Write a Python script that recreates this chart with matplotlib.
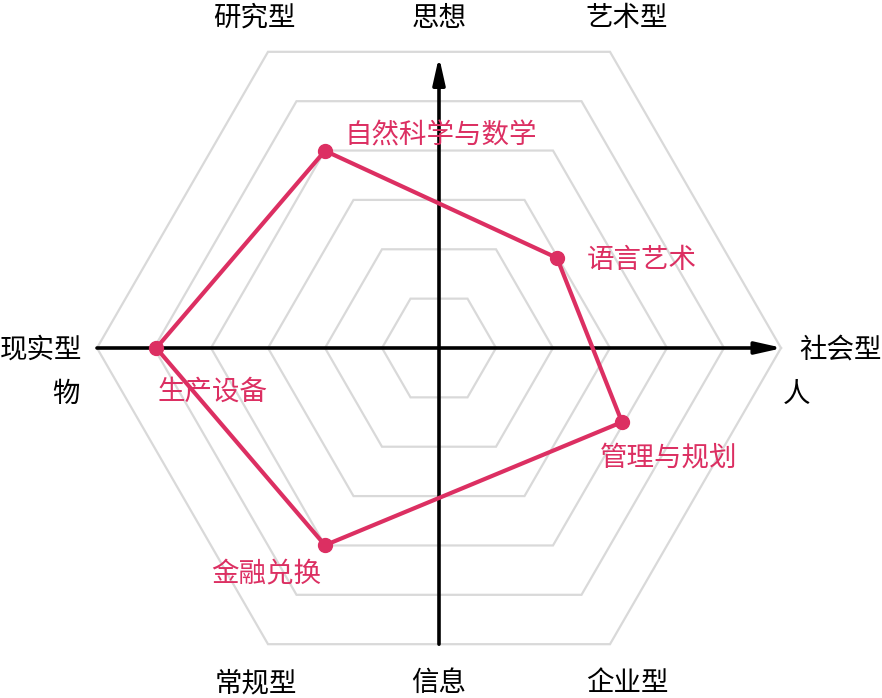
import numpy as np
import matplotlib
matplotlib.use("Agg")
import matplotlib.pyplot as plt

plt.rcParams['font.family'] = ['Noto Sans CJK SC', 'DejaVu Sans']

# ---- data (unit = one hexagon ring) ----
point_labels = ["自然科学与数学", "语言艺术", "管理与规划", "金融兑换", "生产设备"]
point_x = [-2.0, 2.07, 3.21, -2.0, -4.96]
point_y = [3.46, 1.58, -1.30, -3.46, 0.0]
ring_levels = [1, 2, 3, 4, 5, 6]

top_labels = ["研究型", "思想", "艺术型"]
bottom_labels = ["常规型", "信息", "企业型"]
left_labels = ["现实型", "物"]
right_labels = ["社会型", "人"]

PINK = "#dc2f62"
GRID = "#d9d9d9"

W, H, DPI = 882, 698, 100
fig = plt.figure(figsize=(W / DPI, H / DPI), dpi=DPI)
ax = fig.add_axes([0, 0, 1, 1])
unit = 57.0
cx, cy = 439.0, 348.0
ax.set_xlim(-cx / unit, (W - cx) / unit)
ax.set_ylim(-(H - cy) / unit, cy / unit)
ax.axis('off')

# hexagon rings
ang = np.deg2rad(np.arange(0, 361, 60))
for r in ring_levels:
    ax.plot(r * np.cos(ang), r * np.sin(ang), color=GRID, lw=1.6, zorder=1,
            solid_joinstyle='miter')

# axes arrows
R = ring_levels[-1]
arrow_style = '-|>,head_length=16,head_width=3.6'
ax.annotate('', xy=(R + 0.03, 0), xytext=(-R, 0),
            arrowprops=dict(arrowstyle=arrow_style, lw=2.6, color='black',
                            shrinkA=0, shrinkB=0, mutation_scale=1), zorder=2)
ax.annotate('', xy=(0, 5.11), xytext=(0, -R * np.sin(np.pi / 3)),
            arrowprops=dict(arrowstyle=arrow_style, lw=2.6, color='black',
                            shrinkA=0, shrinkB=0, mutation_scale=1), zorder=2)

# data polygon
px = list(point_x) + [point_x[0]]
py = list(point_y) + [point_y[0]]
ax.plot(px, py, color=PINK, lw=3.0, zorder=3, solid_joinstyle='round')
ax.plot(point_x, point_y, 'o', color=PINK, ms=10, zorder=4)

offsets = [(13.7, 10.5, 'left'), (21.6, -2.0, 'left'), (-15.8, -26.0, 'left'),
           (-2.9, -21.0, 'right'), (0.7, -31.5, 'left')]
FS = 19.8
for lab, x, y, (dx, dy, ha) in zip(point_labels, point_x, point_y, offsets):
    ax.annotate(lab, xy=(x, y), xytext=(dx, dy), textcoords='offset points',
                ha=ha, va='center', color=PINK, fontsize=FS, zorder=5)

# category labels
top_x = [-3.23, 0.0, 3.30]
for lab, x in zip(top_labels, top_x):
    ax.text(x, 5.78, lab, ha='center', va='center', fontsize=FS, color='black')
for lab, x in zip(bottom_labels, [-3.21, 0.0, 3.30]):
    ax.text(x, -5.89, lab, ha='center', va='center', fontsize=FS, color='black')
ax.text(-6.26, -0.04, left_labels[0], ha='right', va='center', fontsize=FS, color='black')
ax.text(-6.30, -0.82, left_labels[1], ha='right', va='center', fontsize=FS, color='black')
ax.text(6.32, -0.04, right_labels[0], ha='left', va='center', fontsize=FS, color='black')
ax.text(6.27, -0.82, right_labels[1], ha='center', va='center', fontsize=FS, color='black')

fig.savefig("out.png", dpi=DPI, facecolor='white')
